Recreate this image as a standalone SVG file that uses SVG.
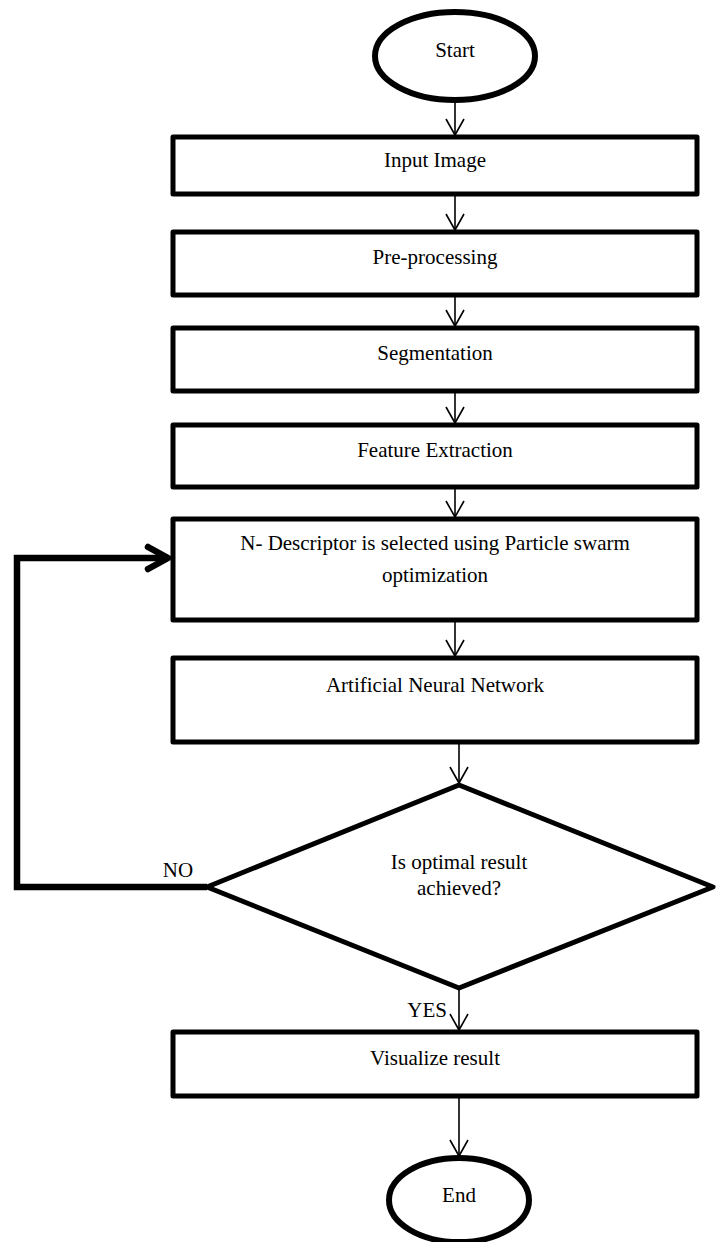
<svg xmlns="http://www.w3.org/2000/svg" width="720" height="1242" viewBox="0 0 720 1242">
<defs>
<style>
.shape{fill:#fff;stroke:#000;stroke-width:5;stroke-linejoin:round}
.oval{fill:#fff;stroke:#000;stroke-width:6}
.t{font-family:"Liberation Serif","Times New Roman",serif;font-size:21px;fill:#000;text-anchor:middle}
.lbl{font-family:"Liberation Serif","Times New Roman",serif;font-size:21px;fill:#000}
.conn{fill:none;stroke:#000;stroke-width:1.6}
.loop{fill:none;stroke:#000;stroke-width:6.5;stroke-linejoin:miter;stroke-linecap:butt}
.loophead{fill:none;stroke:#000;stroke-width:6.5;stroke-linecap:round;stroke-linejoin:round}
</style>
<marker id="arr" viewBox="0 0 20 20" refX="18" refY="10" markerWidth="20" markerHeight="20" markerUnits="userSpaceOnUse" orient="auto">
<path d="M2,1 L18,10 L2,19" fill="none" stroke="#000" stroke-width="1.6"/>
</marker>
</defs>
<rect width="720" height="1242" fill="#fff"/>
<g id="start"><ellipse class="oval" cx="455" cy="56" rx="80" ry="44"/><text class="t" x="455" y="57">Start</text></g>
<g id="input"><rect class="shape" x="173" y="137" width="524" height="57"/><text class="t" x="435" y="167">Input Image</text></g>
<g id="preproc"><rect class="shape" x="173" y="232" width="524" height="63"/><text class="t" x="435" y="264">Pre-processing</text></g>
<g id="segment"><rect class="shape" x="173" y="328" width="524" height="63"/><text class="t" x="435" y="360">Segmentation</text></g>
<g id="feature"><rect class="shape" x="173" y="425" width="524" height="62"/><text class="t" x="435" y="457">Feature Extraction</text></g>
<g id="pso"><rect class="shape" x="173" y="519" width="524" height="101"/><text class="t" x="435" y="550">N- Descriptor is selected using Particle swarm</text><text class="t" x="435" y="582">optimization</text></g>
<g id="ann"><rect class="shape" x="173" y="658" width="524" height="84"/><text class="t" x="435" y="692">Artificial Neural Network</text></g>
<g id="decision"><polygon class="shape" points="459,785 713,887 459,988 207,887"/><text class="t" x="459" y="869">Is optimal result</text><text class="t" x="459" y="895">achieved?</text></g>
<g id="visualize"><rect class="shape" x="173" y="1032" width="524" height="64"/><text class="t" x="435" y="1065">Visualize result</text></g>
<g id="end"><ellipse class="oval" cx="459" cy="1200" rx="70" ry="42"/><text class="t" x="459" y="1202">End</text></g>
<g id="connectors">
<line class="conn" x1="455" y1="100" x2="455" y2="135" marker-end="url(#arr)"/>
<line class="conn" x1="455" y1="194" x2="455" y2="230" marker-end="url(#arr)"/>
<line class="conn" x1="455" y1="295" x2="455" y2="326" marker-end="url(#arr)"/>
<line class="conn" x1="455" y1="391" x2="455" y2="423" marker-end="url(#arr)"/>
<line class="conn" x1="455" y1="487" x2="455" y2="517" marker-end="url(#arr)"/>
<line class="conn" x1="455" y1="620" x2="455" y2="656" marker-end="url(#arr)"/>
<line class="conn" x1="459" y1="742" x2="459" y2="783" marker-end="url(#arr)"/>
<line class="conn" x1="459" y1="988" x2="459" y2="1030" marker-end="url(#arr)"/>
<line class="conn" x1="459" y1="1096" x2="459" y2="1156" marker-end="url(#arr)"/>
<polyline class="loop" points="207,887 17,887 17,558 168,558"/>
<polyline class="loophead" points="148,547 168,558 148,569"/>
<text class="lbl" x="178" y="877" text-anchor="middle">NO</text>
<text class="lbl" x="447" y="1017" text-anchor="end">YES</text>
</g>
</svg>
